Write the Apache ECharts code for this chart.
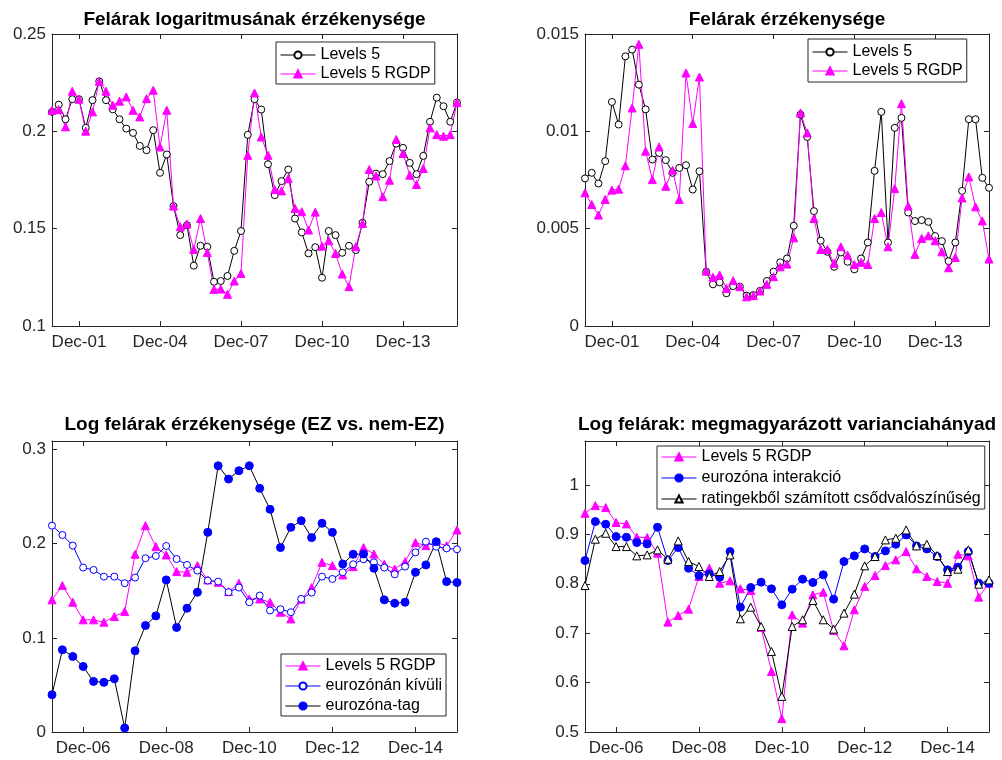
<!DOCTYPE html>
<html><head><meta charset="utf-8">
<script src="https://cdn.jsdelivr.net/npm/echarts@6/dist/echarts.min.js"></script>
<style>html,body{margin:0;padding:0;background:#fff}#c{width:1002px;height:760px}</style>
</head><body><div id="c"></div>
<script>
const quartersA = ['Dec-00','Mar-01','Jun-01','Sep-01','Dec-01','Mar-02','Jun-02','Sep-02','Dec-02','Mar-03','Jun-03','Sep-03','Dec-03','Mar-04','Jun-04','Sep-04','Dec-04','Mar-05','Jun-05','Sep-05','Dec-05','Mar-06','Jun-06','Sep-06','Dec-06','Mar-07','Jun-07','Sep-07','Dec-07','Mar-08','Jun-08','Sep-08','Dec-08','Mar-09','Jun-09','Sep-09','Dec-09','Mar-10','Jun-10','Sep-10','Dec-10','Mar-11','Jun-11','Sep-11','Dec-11','Mar-12','Jun-12','Sep-12','Dec-12','Mar-13','Jun-13','Sep-13','Dec-13','Mar-14','Jun-14','Sep-14','Dec-14','Mar-15','Jun-15','Sep-15','Dec-15'];
const quartersB = quartersA.slice(21);
const ticksA = ['Dec-01','Dec-04','Dec-07','Dec-10','Dec-13'];
const ticksB = ['Dec-06','Dec-08','Dec-10','Dec-12','Dec-14'];

const p1Levels5 = [0.210,0.2137,0.2062,0.2165,0.2165,0.2018,0.216,0.2257,0.216,0.2113,
 0.2062,0.2014,0.1992,0.1925,0.1903,0.2006,0.1787,0.1881,0.1616,0.1467,
 0.1518,0.131,0.1412,0.1407,0.1227,0.1231,0.1257,0.1386,0.1488,0.1982,
 0.2165,0.2112,0.1831,0.1672,0.1744,0.1804,0.1552,0.1481,0.1373,0.1405,
 0.1248,0.1488,0.1467,0.1376,0.1412,0.139,0.153,0.1741,0.1783,0.178,
 0.1847,0.1937,0.1915,0.1838,0.178,0.1874,0.2049,0.2173,0.2129,0.2049,0.2148];
const p1RGDP = [0.2108,0.2112,0.2023,0.2206,0.2165,0.2001,0.210,0.2257,0.2206,0.2134,
 0.2155,0.2177,0.2108,0.2074,0.2168,0.2211,0.192,0.2108,0.1616,0.151,
 0.1524,0.1393,0.1552,0.1378,0.1188,0.119,0.1163,0.1231,0.127,0.1877,
 0.2197,0.1971,0.1877,0.1701,0.1694,0.1758,0.1604,0.1587,0.1493,0.1585,
 0.141,0.1438,0.1373,0.1267,0.1202,0.1407,0.1527,0.1804,0.1771,0.1664,
 0.1749,0.1958,0.1886,0.1775,0.1727,0.1809,0.2018,0.1983,0.1975,0.1983,0.2148];
const p2Levels5 = [0.00758,0.00787,0.00732,0.00847,0.01151,0.01035,0.01385,0.0142,0.0124,0.01113,
 0.00855,0.00889,0.00852,0.00787,0.00812,0.00826,0.00701,0.00795,0.00279,0.00214,
 0.00224,0.00168,0.00205,0.00202,0.00156,0.00159,0.00181,0.00231,0.00279,0.00327,
 0.00347,0.00515,0.01086,0.00971,0.0059,0.00438,0.00381,0.00304,0.00378,0.0033,
 0.00291,0.00347,0.00429,0.00797,0.011,0.00429,0.01018,0.01069,0.00583,0.00539,
 0.00544,0.00535,0.00462,0.00436,0.00333,0.00429,0.00694,0.01062,0.01062,0.00761,0.0071];
const p2RGDP = [0.00684,0.00624,0.0057,0.0065,0.00698,0.00703,0.00823,0.0112,0.01447,0.00898,
 0.00752,0.0092,0.00718,0.008,0.0065,0.013,0.0104,0.01279,0.00282,0.0025,
 0.00262,0.00193,0.00233,0.00202,0.0015,0.00156,0.0018,0.00214,0.00253,0.00304,
 0.00318,0.00453,0.01095,0.00992,0.00552,0.00393,0.00393,0.00322,0.00407,0.00364,
 0.00316,0.00327,0.00316,0.00552,0.00583,0.00407,0.00706,0.01142,0.00616,0.00368,
 0.0045,0.00463,0.00438,0.00381,0.00299,0.00352,0.00658,0.00766,0.00612,0.0054,0.00344];
const p3RGDP = [0.1403,0.1555,0.1378,0.1191,0.1191,0.1166,0.1226,0.1279,0.1887,0.2191,
 0.1968,0.188,0.1703,0.1696,0.1767,0.1615,0.159,0.1491,0.158,0.1413,
 0.1413,0.1378,0.1272,0.1201,0.141,0.1534,0.1802,0.1767,0.1668,0.1756,
 0.1958,0.189,0.1781,0.1731,0.1809,0.2011,0.1979,0.2011,0.1979,0.2145];
const p3NonEZ = [0.2191,0.2092,0.1979,0.1746,0.1721,0.165,0.165,0.158,0.164,0.1845,
 0.1869,0.1975,0.1837,0.1774,0.1714,0.1608,0.1597,0.1484,0.1534,0.1378,
 0.1449,0.129,0.1304,0.1272,0.1413,0.148,0.165,0.1625,0.1696,0.1781,
 0.1834,0.1802,0.1746,0.1675,0.1756,0.1908,0.2021,0.1968,0.195,0.194];
const p3EZ = [0.0396,0.0873,0.0802,0.0696,0.0537,0.0527,0.0565,0.0042,0.0862,0.1131,
 0.1233,0.1615,0.111,0.1314,0.1484,0.212,0.2827,0.2686,0.2774,0.2827,
 0.2587,0.2364,0.1958,0.2173,0.2244,0.2064,0.2216,0.212,0.1784,0.1887,
 0.189,0.1738,0.1403,0.1367,0.1378,0.1696,0.1774,0.2021,0.1597,0.1587];
const p4RGDP = [0.9427,0.9582,0.9542,0.9239,0.9212,0.8942,0.8935,0.8619,0.7224,0.7358,
 0.7487,0.8147,0.8315,0.8012,0.8059,0.7898,0.7864,0.7116,0.6226,0.527,
 0.7372,0.7204,0.7776,0.783,0.7055,0.6745,0.7473,0.7945,0.8167,0.8369,
 0.8484,0.8652,0.8302,0.8147,0.8046,0.8012,0.8598,0.8565,0.7729,0.8012];
const p4EZInter = [0.847,0.9259,0.9205,0.8956,0.8942,0.8834,0.8807,0.9144,0.847,0.8733,
 0.8315,0.8167,0.8201,0.8133,0.8652,0.7527,0.7925,0.8032,0.7898,0.7574,
 0.7891,0.8093,0.8026,0.8181,0.7689,0.845,0.8565,0.8706,0.8551,0.8666,
 0.88,0.8989,0.8767,0.8706,0.8551,0.8282,0.8336,0.8652,0.8012,0.8012];
const p4Rating = [0.7965,0.8902,0.9023,0.8753,0.8753,0.8565,0.8585,0.8686,0.8497,0.8868,
 0.845,0.8349,0.8147,0.8248,0.8585,0.7291,0.7527,0.7136,0.6631,0.5721,
 0.7136,0.7271,0.7662,0.7271,0.7082,0.7406,0.779,0.8363,0.8551,0.8888,
 0.8922,0.909,0.8767,0.88,0.8571,0.8248,0.8295,0.8686,0.7992,0.8079];

const titles = ['Felárak logaritmusának érzékenysége','Felárak érzékenysége','Log felárak érzékenysége (EZ vs. nem-EZ)','Log felárak: megmagyarázott varianciahányad'];

const FONT = '"Liberation Sans", Arial, sans-serif';
const AX = '#262626';
const grids = [
  {left:52, top:34, width:405, height:292},
  {left:585, top:34, width:404, height:292},
  {left:52, top:441, width:405, height:291},
  {left:585, top:441, width:404, height:291}
];
const yCfg = [
  {min:0.1, max:0.25, interval:0.05},
  {min:0, max:0.015, interval:0.005},
  {min:0, max:0.309, interval:0.1},
  {min:0.5, max:1.089, interval:0.1}
];
const xCats = [quartersA, quartersA, quartersB, quartersB];
const xTicks = [ticksA, ticksA, ticksB, ticksB];

const xAxis = [], yAxis = [];
grids.forEach((g, i) => {
  const cats = xCats[i], tk = xTicks[i];
  const show = (idx) => tk.indexOf(cats[idx]) >= 0;
  [false, true].forEach(top => {
    xAxis.push({
      type:'category', gridIndex:i, data:cats, boundaryGap:false, position: top?'top':'bottom',
      axisLine:{show:true, onZero:false, lineStyle:{color:AX, width:1}},
      axisTick:{show:true, inside:true, length:5, interval:(idx)=>show(idx), lineStyle:{color:AX}},
      axisLabel:{show:!top, interval:(idx)=>show(idx), color:AX, fontSize:17, fontFamily:FONT, margin:8},
      splitLine:{show:false}
    });
    yAxis.push(Object.assign({
      type:'value', gridIndex:i, position: top?'right':'left',
      axisLine:{show:true, onZero:false, lineStyle:{color:AX, width:1}},
      axisTick:{show:true, inside:true, length:5, lineStyle:{color:AX}},
      axisLabel:{show:!top, color:AX, fontSize:17, fontFamily:FONT, margin:6, showMaxLabel: (i>=2)?false:true},
      splitLine:{show:false}
    }, yCfg[i]));
  });
});

function ser(name, gi, data, color, symbol, size, fill) {
  return {
    name, type:'line', xAxisIndex:gi*2, yAxisIndex:gi*2, data,
    symbol, symbolSize:size, showAllSymbol:true,
    lineStyle:{color, width:1},
    itemStyle:{color: fill, borderColor: (symbol==='circle' && fill!=='#ffffff') ? fill : color, borderWidth:1},
    emphasis:{disabled:true}
  };
}
const MAG = '#ff00ff', BLUE = '#0000ff', BLK = '#000000', WH = '#ffffff';
const series = [
  ser('Levels 5', 0, p1Levels5, BLK, 'circle', 7, WH),
  ser('Levels 5 RGDP', 0, p1RGDP, MAG, 'triangle', 8, MAG),
  ser('Levels 5', 1, p2Levels5, BLK, 'circle', 7, WH),
  ser('Levels 5 RGDP', 1, p2RGDP, MAG, 'triangle', 8, MAG),
  ser('Levels 5 RGDP', 2, p3RGDP, MAG, 'triangle', 8, MAG),
  ser('eurozónán kívüli', 2, p3NonEZ, BLUE, 'circle', 7, WH),
  ser('eurozóna-tag', 2, p3EZ, BLK, 'circle', 8, BLUE),
  ser('Levels 5 RGDP', 3, p4RGDP, MAG, 'triangle', 8, MAG),
  ser('eurozóna interakció', 3, p4EZInter, BLUE, 'circle', 8, BLUE),
  ser('ratingekből számított csődvalószínűség', 3, p4Rating, BLK, 'triangle', 8, WH)
];

function leg(names, left, top, gap, pad) {
  return {
    data: names, left, top, orient:'vertical', align:'left', selectedMode:false,
    backgroundColor:'#fff', borderColor:AX, borderWidth:1, borderRadius:0,
    padding:pad, itemGap:gap, itemWidth:35, itemHeight:9,
    lineStyle:{width:1},
    textStyle:{fontSize:16, color:'#000', fontFamily:FONT}
  };
}
const legend = [
  leg(['Levels 5','Levels 5 RGDP'], 276, 42, 3, [5,4,2,4]),
  leg(['Levels 5','Levels 5 RGDP'], 808, 39, 3, [5,4,3,4]),
  leg(['Levels 5 RGDP','eurozónán kívüli','eurozóna-tag'], 281, 654, 4, [4,4,2,4]),
  leg(['Levels 5 RGDP','eurozóna interakció','ratingekből számított csődvalószínűség'], 657, 446, 5, [3,4,2,4])
];

const titleCenters = [[254.5, 10], [787, 10], [254.5, 415], [787, 415]];
const title = titles.map((t, i) => ({
  text: t, left: titleCenters[i][0], top: titleCenters[i][1], textAlign:'center', padding:0,
  textStyle:{fontSize:19, fontWeight:'bold', color:'#000', fontFamily:FONT}
}));

const chart = echarts.init(document.getElementById('c'), null, {renderer:'canvas'});
chart.setOption({animation:false, backgroundColor:'#fff', title, grid:grids, xAxis, yAxis, legend, series});
</script></body></html>
